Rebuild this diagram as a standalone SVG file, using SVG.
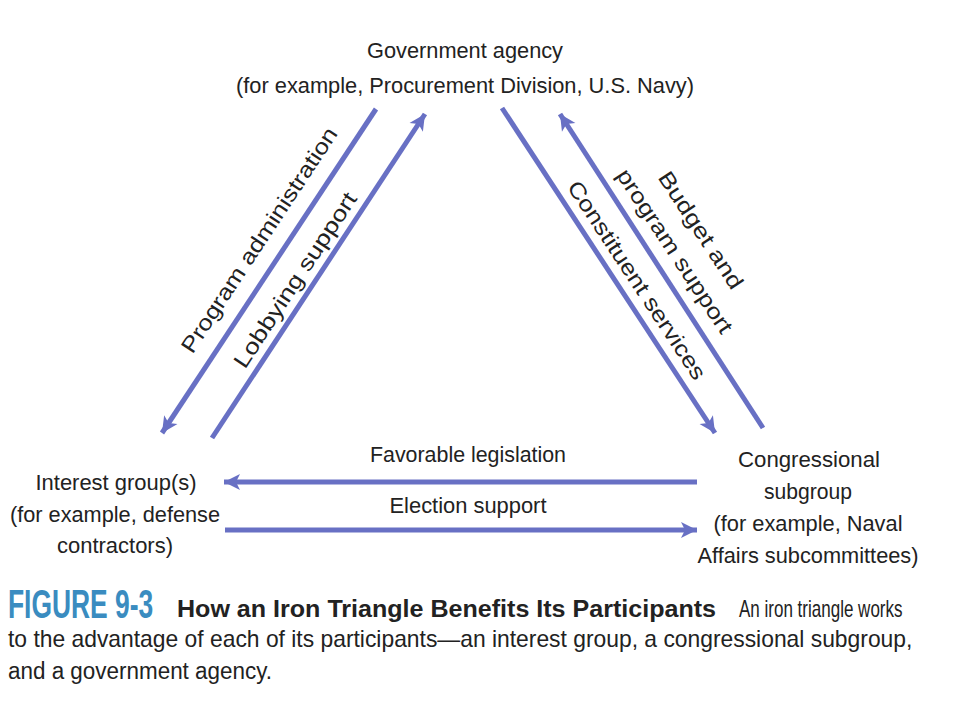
<svg xmlns="http://www.w3.org/2000/svg" width="960" height="720" viewBox="0 0 960 720">
<style>
.t{font-family:"Liberation Sans",Arial,sans-serif;font-size:22px;fill:#222;text-anchor:middle}
.c{font-family:"Liberation Sans",Arial,sans-serif;font-size:23px;fill:#222}
.ln{stroke:#6870c4;stroke-width:5;fill:none;marker-end:url(#ah)}
</style>
<defs>
<marker id="ah" markerUnits="userSpaceOnUse" markerWidth="20" markerHeight="20" viewBox="0 0 20 20" refX="17" refY="10" orient="auto">
<path d="M1,2 L17,10 L1,18 L5,10 z" fill="#6870c4"/>
</marker>
</defs>
<rect width="960" height="720" fill="#fff"/>
<g id="connectors">
<line class="ln" x1="376" y1="109" x2="162" y2="433"/>
<line class="ln" x1="212" y1="438" x2="425" y2="114"/>
<line class="ln" x1="502" y1="108" x2="715" y2="433"/>
<line class="ln" x1="763" y1="428" x2="560" y2="114"/>
<line class="ln" x1="697" y1="482" x2="224" y2="482"/>
<line class="ln" x1="225" y1="530" x2="697" y2="530"/>
<text class="t" transform="translate(259,240) rotate(-56.6)" dy="0.35em" textLength="265" lengthAdjust="spacingAndGlyphs">Program administration</text>
<text class="t" transform="translate(295,280) rotate(-56.6)" dy="0.35em" textLength="205" lengthAdjust="spacingAndGlyphs">Lobbying support</text>
<text class="t" transform="translate(637,280) rotate(56.6)" dy="0.35em" textLength="233" lengthAdjust="spacingAndGlyphs">Constituent services</text>
<text class="t" transform="translate(701,230) rotate(56.6)" dy="0.35em" textLength="136" lengthAdjust="spacingAndGlyphs">Budget and</text>
<text class="t" transform="translate(675,251) rotate(56.6)" dy="0.35em" textLength="192" lengthAdjust="spacingAndGlyphs">program support</text>
<text class="t" x="468" y="462" textLength="196" lengthAdjust="spacingAndGlyphs">Favorable legislation</text>
<text class="t" x="468" y="513" textLength="157" lengthAdjust="spacingAndGlyphs">Election support</text>
</g>
<g id="agency">
<text class="t" x="465" y="58" textLength="196" lengthAdjust="spacingAndGlyphs">Government agency</text>
<text class="t" x="465" y="93" textLength="458" lengthAdjust="spacingAndGlyphs">(for example, Procurement Division, U.S. Navy)</text>
</g>
<g id="interest">
<text class="t" x="116" y="490" textLength="161" lengthAdjust="spacingAndGlyphs">Interest group(s)</text>
<text class="t" x="115" y="522" textLength="210" lengthAdjust="spacingAndGlyphs">(for example, defense</text>
<text class="t" x="115" y="553" textLength="116" lengthAdjust="spacingAndGlyphs">contractors)</text>
</g>
<g id="congress">
<text class="t" x="809" y="467" textLength="142" lengthAdjust="spacingAndGlyphs">Congressional</text>
<text class="t" x="808" y="499" textLength="88" lengthAdjust="spacingAndGlyphs">subgroup</text>
<text class="t" x="808" y="531" textLength="189" lengthAdjust="spacingAndGlyphs">(for example, Naval</text>
<text class="t" x="808" y="563" textLength="221" lengthAdjust="spacingAndGlyphs">Affairs subcommittees)</text>
</g>
<g id="caption">
<text transform="translate(8,618) scale(0.66,1)" font-family="'Liberation Sans',sans-serif" font-weight="bold" font-size="40" fill="#3a8cc0" textLength="220" lengthAdjust="spacingAndGlyphs">FIGURE 9-3</text>
<text class="c" x="177" y="617" font-weight="bold" textLength="539" lengthAdjust="spacingAndGlyphs">How an Iron Triangle Benefits Its Participants</text>
<text class="c" transform="translate(739,617) scale(0.74,1)" textLength="221" lengthAdjust="spacingAndGlyphs">An iron triangle works</text>
<text class="c" transform="translate(8,647) scale(0.92,1)" textLength="983" lengthAdjust="spacingAndGlyphs">to the advantage of each of its participants—an interest group, a congressional subgroup,</text>
<text class="c" x="8" y="679" textLength="264" lengthAdjust="spacingAndGlyphs">and a government agency.</text>
</g>
</svg>
